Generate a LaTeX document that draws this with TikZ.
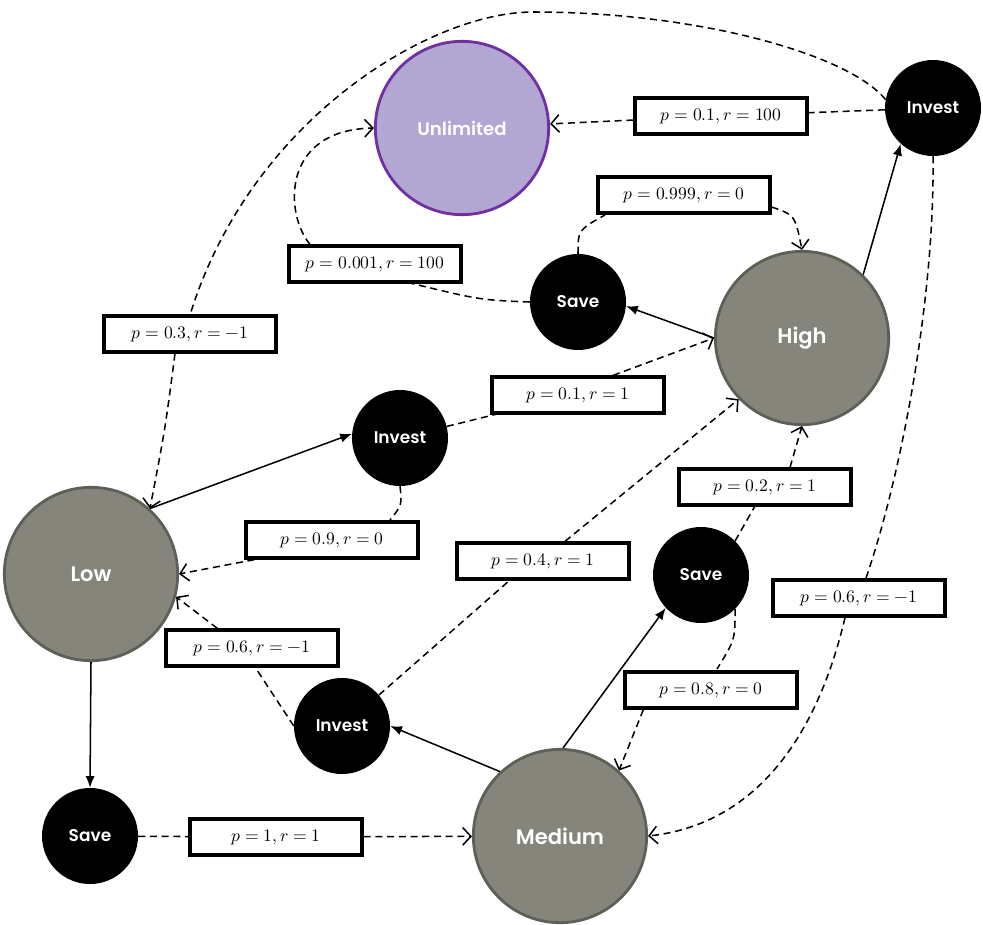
\documentclass[tikz,border=0pt]{standalone}
\usepackage{fontspec}
\usepackage{unicode-math}
\setmathfont{Latin Modern Math}
\newfontfamily\nodefont{Poppins}[BoldFont={Poppins SemiBold}]
\usetikzlibrary{arrows.meta,calc}
\definecolor{gfill}{HTML}{85857B}
\definecolor{gdraw}{HTML}{5F5F57}
\definecolor{pfill}{HTML}{B2A7D3}
\definecolor{pdraw}{HTML}{7030A0}
\tikzset{
  bigstate/.style={circle,minimum size=5.2cm,inner sep=0pt,draw=gdraw,line width=2.4pt,fill=gfill,text=white,font=\nodefont\bfseries\fontsize{18}{21}\selectfont},
  unlstate/.style={bigstate,draw=pdraw,fill=pfill,font=\nodefont\bfseries\fontsize{15.5}{19}\selectfont},
  actnode/.style={circle,minimum size=2.88cm,inner sep=0pt,fill=black,text=white,font=\nodefont\bfseries\fontsize{14.5}{18}\selectfont},
  lbl/.style={rectangle,draw=black,line width=2.8pt,fill=white,minimum width=5.16cm,minimum height=1.08cm,inner sep=0pt,font=\fontsize{15}{17}\selectfont},
  dline/.style={line width=1.3pt,dash pattern=on 6pt off 4pt},
  darr/.style={dline,-{Straight Barb[length=7pt,width=15pt,line width=1.3pt]}},
  sarr/.style={line width=1.3pt,-{Latex[length=10pt,width=8pt]}}
}
\begin{document}
\begin{tikzpicture}[x=0.03cm,y=-0.03cm]
\useasboundingbox (0,0) rectangle (983,924);
% states
\node[unlstate] (unl) at (462,128) {Unlimited};
\node[bigstate] (high) at (802,338) {High};
\node[bigstate] (low) at (91,574) {Low};
\node[bigstate] (med) at (560,836) {Medium};
% actions
\node[actnode] (invT) at (933,108) {Invest};
\node[actnode] (save1) at (578,302) {Save};
\node[actnode] (invM) at (400,438) {Invest};
\node[actnode] (save2) at (701,575) {Save};
\node[actnode] (invL) at (342,726) {Invest};
\node[actnode] (saveB) at (90,836) {Save};
% solid arrows
\draw[sarr] (high.46) -- (invT.-132);
\draw[sarr] (high.west) -- (save1.-5);
\draw[sarr] (low.48) -- (invM.175);
\draw[sarr] (low.south) -- (saveB.north);
\draw[sarr] (med.133) -- (invL.east);
\draw[sarr] (med.88) -- (save2.223);
% dashed transitions
\draw[dline] (invT.170) .. controls (850,55) and (700,12) .. (533,12)
  .. controls (430,12) and (250,120) .. (190,315);
\draw[dline] (invT.south) .. controls (935,300) and (900,480) .. (866,578);
\draw[dline] (invT) -- (721,116);
\draw[dline] (save1.north) .. controls (578,230) .. (605,215);
\draw[dline] (save1.west) .. controls (480,300) .. (410,283);
\draw[dline] (invM) -- (497,414);
\draw[dline] (invM.south) .. controls (402,505) .. (390,520);
\draw[dline] (save2.45) -- (755,506);
\draw[dline] (save2.-45) .. controls (735,640) .. (717,669);
\draw[dline] (invL.40) -- (510,580);
\draw[dline] (invL.west) -- (255,667);
\draw[dline] (saveB) -- (276,837);
% labels
\node[lbl] (l1) at (721,116) {$p=0.1, r=100$};
\node[lbl] (l2) at (190,334) {$p=0.3, r=-1$};
\node[lbl] (l3) at (859,598) {$p=0.6, r=-1$};
\node[lbl] (l4) at (684,195) {$p=0.999, r=0$};
\node[lbl] (l5) at (375,264) {$p=0.001, r=100$};
\node[lbl] (l6) at (578,395) {$p=0.1, r=1$};
\node[lbl] (l7) at (332,540) {$p=0.9, r=0$};
\node[lbl] (l8) at (765,487) {$p=0.2, r=1$};
\node[lbl] (l9) at (711,690) {$p=0.8, r=0$};
\node[lbl] (l10) at (543,561) {$p=0.4, r=1$};
\node[lbl] (l11) at (252,648) {$p=0.6, r=-1$};
\node[lbl] (l12) at (276,837) {$p=1, r=1$};
% arrows from labels
\draw[darr] (l1) -- (unl);
\draw[darr] ($(l2.south)+(-15,0)$) .. controls (165,430) .. (low.48);
\draw[darr] ($(l3.south)+(-14,0)$) .. controls (815,745) and (750,825) .. (med.east);
\draw[darr] ($(l4.east)+(0,12)$) .. controls (795,215) .. (high.north);
\draw[darr] ($(l5.north)+(-65,0)$) .. controls (285,215) and (280,130) .. (unl.west);
\draw[darr] ($(l6.north)+(35,0)$) -- (high.west);
\draw[darr] ($(l7.south west)+(10,0)$) -- (low.east);
\draw[darr] ($(l8.north)+(25,0)$) -- (high.south);
\draw[darr] ($(l9.south west)+(20,0)$) .. controls (632,740) .. (med.48);
\draw[darr] ($(l10.north)+(22,0)$) -- (high.224);
\draw[darr] ($(l11.north west)+(53,0)$) -- (low.-15);
\draw[darr] (l12) -- (med);
\end{tikzpicture}
\end{document}
